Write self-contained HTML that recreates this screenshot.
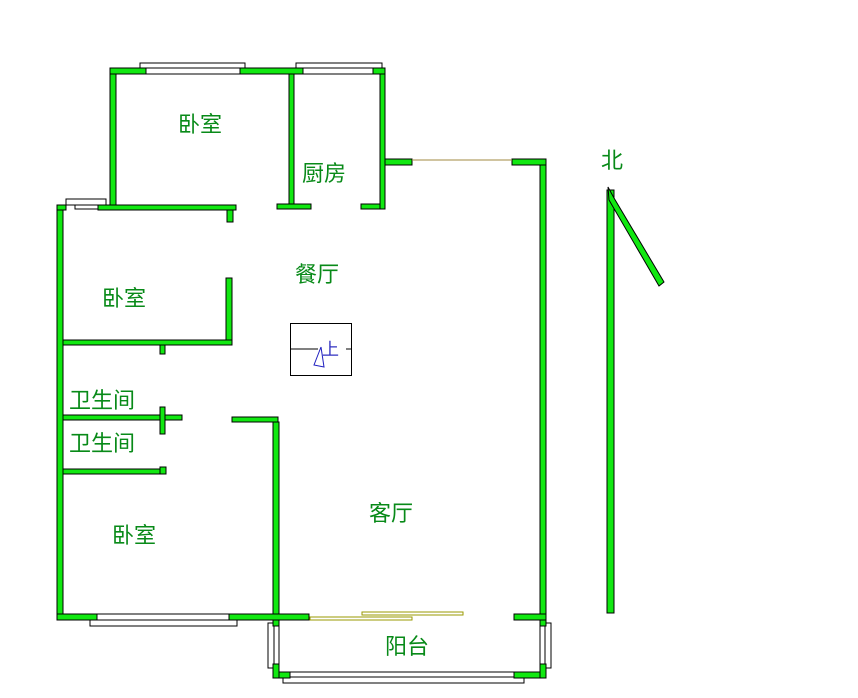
<!DOCTYPE html>
<html><head><meta charset="utf-8"><style>
html,body{margin:0;padding:0;background:#fff;width:858px;height:698px;overflow:hidden}
text{font-family:"Liberation Sans","Noto Sans CJK SC",sans-serif;font-size:22px;fill:#088a18}
</style></head><body>
<svg width="858" height="698" viewBox="0 0 858 698" xmlns="http://www.w3.org/2000/svg">
<g fill="#fff" stroke="#000" stroke-width="1">
<rect x="140" y="63" width="105" height="6"/>
<rect x="296" y="63" width="86" height="6"/>
<rect x="66" y="199" width="40" height="6"/>
<rect x="90" y="620" width="147" height="6"/>
<rect x="283" y="677" width="241" height="6"/>
<rect x="268" y="623" width="6" height="45"/>
<rect x="545" y="623" width="6" height="45"/>
</g>
<g fill="#fff" stroke="#000" stroke-width="1">
<rect x="146" y="68" width="94" height="6"/>
<rect x="303" y="68" width="70" height="6"/>
<rect x="75" y="205" width="23" height="4"/>
<rect x="97" y="614" width="132" height="6"/>
<rect x="290" y="672" width="224" height="5"/>
<rect x="274" y="626" width="5" height="38"/>
<rect x="540" y="626" width="5" height="38"/>
</g>
<g fill="#11e811" stroke="#000" stroke-width="1">
<rect x="110" y="68" width="36" height="6"/>
<rect x="240" y="68" width="63" height="6"/>
<rect x="373" y="68" width="12" height="6"/>
<rect x="110" y="74" width="6" height="131"/>
<rect x="289" y="74" width="5" height="130"/>
<rect x="380" y="74" width="5" height="135"/>
<rect x="385" y="159" width="27" height="6"/>
<rect x="512" y="159" width="34" height="6"/>
<rect x="540" y="165" width="6" height="449"/>
<rect x="277" y="204" width="34" height="5"/>
<rect x="361" y="204" width="19" height="5"/>
<rect x="57" y="205" width="9" height="5"/>
<rect x="98" y="205" width="138" height="5"/>
<rect x="227" y="210" width="6" height="12"/>
<rect x="57" y="210" width="6" height="404"/>
<rect x="226" y="278" width="6" height="67"/>
<rect x="63" y="340" width="169" height="5"/>
<rect x="160" y="345" width="5" height="9"/>
<rect x="63" y="415" width="119" height="5"/>
<rect x="160" y="407" width="5" height="27"/>
<rect x="232" y="417" width="46" height="5"/>
<rect x="273" y="422" width="6" height="192"/>
<rect x="63" y="469" width="103" height="5"/>
<rect x="160" y="467" width="6" height="7"/>
<rect x="57" y="614" width="40" height="6"/>
<rect x="229" y="614" width="80" height="6"/>
<rect x="514" y="614" width="32" height="6"/>
<rect x="273" y="620" width="6" height="6"/>
<rect x="273" y="664" width="6" height="14"/>
<rect x="540" y="620" width="6" height="6"/>
<rect x="540" y="664" width="6" height="14"/>
<rect x="279" y="672" width="11" height="6"/>
<rect x="514" y="672" width="26" height="6"/>
<rect x="607" y="190" width="7" height="423"/>
<polygon points="608,187 614,198 664,282 659,286 609,200"/>
</g>
<line x1="412" y1="160" x2="512" y2="160" stroke="#a08a40" stroke-width="1"/>
<rect x="310" y="617" width="102" height="3" fill="none" stroke="#999900" stroke-width="1"/>
<rect x="362" y="612" width="101" height="3" fill="none" stroke="#999900" stroke-width="1"/>
<rect x="290.5" y="323.5" width="61" height="52" fill="none" stroke="#000"/>
<line x1="290" y1="349" x2="318" y2="349" stroke="#000"/>
<line x1="346" y1="349" x2="352" y2="349" stroke="#000"/>
<polyline points="321,347 314,365 324,367 321,347" fill="none" stroke="#2020c0"/>
<text x="322" y="355" style="font-size:17px;fill:#3030c0">上</text>
<text x="178" y="132">卧室</text>
<text x="302" y="181">厨房</text>
<text x="295" y="282">餐厅</text>
<text x="102" y="306">卧室</text>
<text x="69" y="408">卫生间</text>
<text x="69" y="451">卫生间</text>
<text x="112" y="543">卧室</text>
<text x="369" y="521">客厅</text>
<text x="385" y="654">阳台</text>
<text x="601" y="168">北</text>
</svg>
</body></html>
